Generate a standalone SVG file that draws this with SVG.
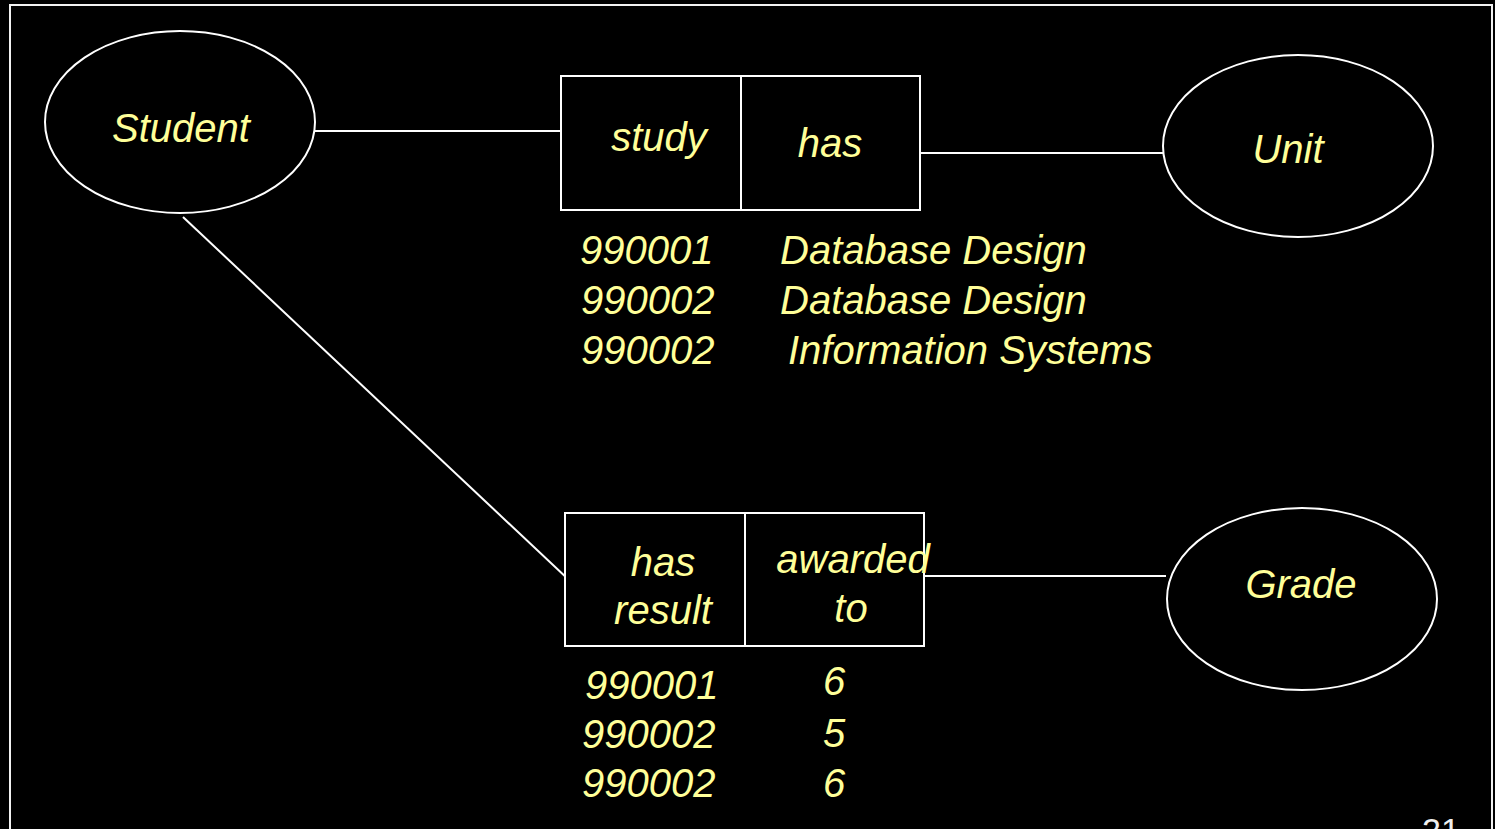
<svg xmlns="http://www.w3.org/2000/svg" width="1495" height="829" viewBox="0 0 1495 829">
  <style>
    .bg { fill: #000000; }
    .frame { fill: none; stroke: #f2f2f2; stroke-width: 2; }
    .shape { fill: #000000; stroke: #ffffff; stroke-width: 2; }
    .link { stroke: #ffffff; stroke-width: 2; fill: none; }
    .lbl { font-family: "Liberation Sans", Arial, sans-serif; font-style: italic; font-size: 40px; fill: #ffff99; }
    .mid { text-anchor: middle; }
    .pg { font-family: "Liberation Sans", Arial, sans-serif; font-size: 34px; fill: #eeeeee; }
  </style>

  <rect class="bg" x="0" y="0" width="1495" height="829"/>
  <rect class="frame" x="10" y="5" width="1482" height="900"/>

  <!-- connectors -->
  <g id="connectors">
    <line class="link" x1="312" y1="131" x2="561" y2="131"/>
    <line class="link" x1="915" y1="153" x2="1163" y2="153"/>
    <line class="link" x1="183" y1="217" x2="569" y2="580"/>
    <line class="link" x1="921" y1="576" x2="1166" y2="576"/>
  </g>

  <!-- entities -->
  <g id="student">
    <ellipse class="shape" cx="180" cy="122" rx="135" ry="91"/>
    <text class="lbl mid" x="181" y="142">Student</text>
  </g>

  <g id="unit">
    <ellipse class="shape" cx="1298" cy="146" rx="135" ry="91"/>
    <text class="lbl mid" x="1288" y="163">Unit</text>
  </g>

  <g id="grade">
    <ellipse class="shape" cx="1302" cy="599" rx="135" ry="91"/>
    <text class="lbl mid" x="1301" y="598">Grade</text>
  </g>

  <!-- study / has relationship -->
  <g id="study-has">
    <rect class="shape" x="561" y="76" width="359" height="134"/>
    <line class="link" x1="741" y1="76" x2="741" y2="210"/>
    <text class="lbl mid" x="659" y="151">study</text>
    <text class="lbl mid" x="830" y="157">has</text>
  </g>

  <g id="study-has-rows">
    <text class="lbl" x="580" y="264">990001</text>
    <text class="lbl" x="780" y="264">Database Design</text>
    <text class="lbl" x="581" y="314">990002</text>
    <text class="lbl" x="780" y="314">Database Design</text>
    <text class="lbl" x="581" y="364">990002</text>
    <text class="lbl" x="788" y="364">Information Systems</text>
  </g>

  <!-- has result / awarded to relationship -->
  <g id="result-awarded">
    <rect class="shape" x="565" y="513" width="359" height="133"/>
    <line class="link" x1="745" y1="513" x2="745" y2="646"/>
    <text class="lbl mid" x="663" y="576">has</text>
    <text class="lbl mid" x="663" y="624">result</text>
    <text class="lbl mid" x="853" y="573">awarded</text>
    <text class="lbl mid" x="851" y="622">to</text>
  </g>

  <g id="result-awarded-rows">
    <text class="lbl" x="585" y="699">990001</text>
    <text class="lbl" x="582" y="748">990002</text>
    <text class="lbl" x="582" y="797">990002</text>
    <text class="lbl mid" x="834" y="695">6</text>
    <text class="lbl mid" x="834" y="747">5</text>
    <text class="lbl mid" x="834" y="797">6</text>
  </g>

  <text class="pg" x="1422" y="842">21</text>
</svg>
